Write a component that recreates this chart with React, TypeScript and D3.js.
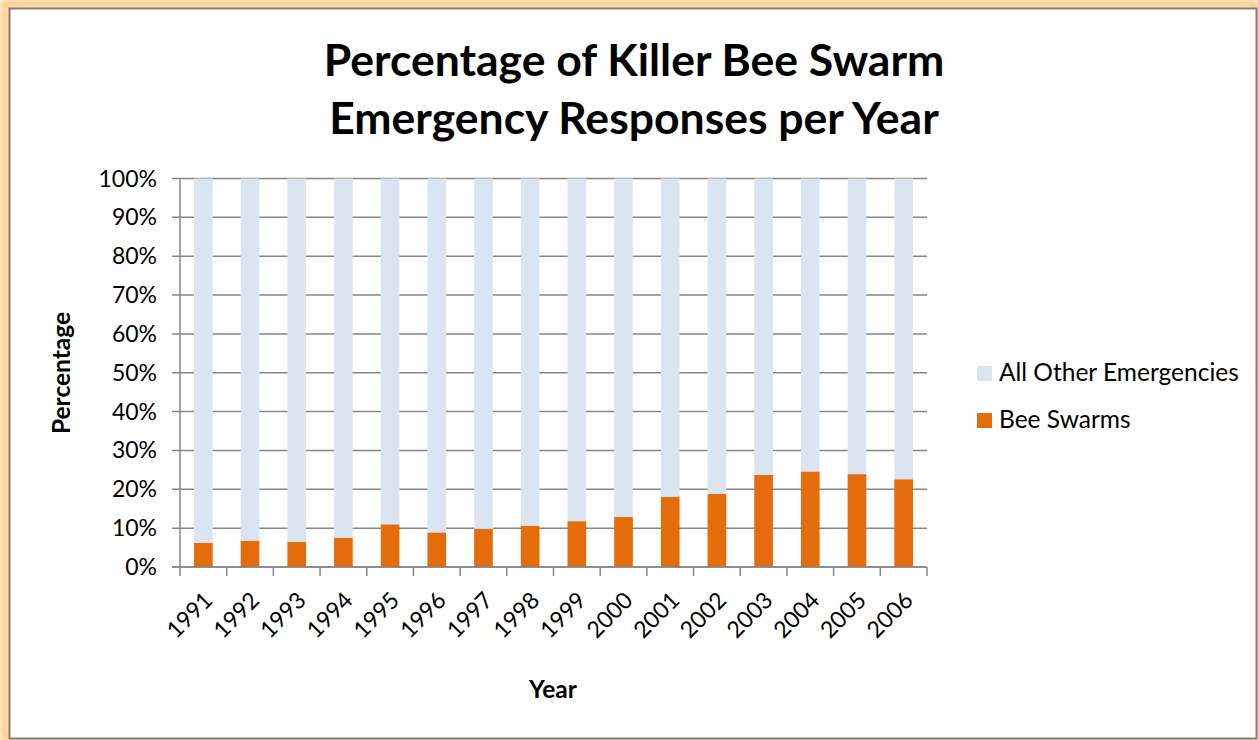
import React from "react";
import * as d3 from "d3";

const years = ["1991","1992","1993","1994","1995","1996","1997","1998","1999","2000","2001","2002","2003","2004","2005","2006"];
const beeSwarms = [6.2, 6.8, 6.5, 7.5, 11.0, 8.9, 9.8, 10.6, 11.8, 12.9, 18.1, 18.8, 23.7, 24.6, 23.9, 22.6];
const yTicks = [0, 10, 20, 30, 40, 50, 60, 70, 80, 90, 100];
const seriesNames = ["All Other Emergencies", "Bee Swarms"];
const seriesColors = ["#DBE5F1", "#E46C0A"];

const W = 1258, H = 740;
const FONT = "Lato, 'Open Sans', sans-serif";

export default function App() {
  const x = d3.scaleBand<string>().domain(years).range([180, 927]).paddingInner(0.6).paddingOuter(0.3);
  const xc = d3.scaleBand<string>().domain(years).range([180, 927]);
  const y = d3.scaleLinear().domain([0, 100]).range([567, 178.5]);
  const rows = years.map((yr, i) => ({ yr, bee: beeSwarms[i], other: 100 - beeSwarms[i] }));
  const series = d3.stack<any>().keys(["bee", "other"])(rows as any);

  return (
    <svg width={W} height={H} style={{ position: "absolute", left: 0, top: 0 }}>
      <defs>
        <filter id="glow" x="-5%" y="-5%" width="110%" height="110%">
          <feGaussianBlur stdDeviation="3" />
        </filter>
      </defs>
      <rect x={0} y={0} width={W} height={H} fill="#fff" />
      <rect x={5} y={4} width={W - 8} height={H - 6} fill="none" stroke="#FFCF8F" strokeWidth={10} filter="url(#glow)" />
      <rect x={9.5} y={8.5} width={W - 11} height={H - 10} fill="#fff" stroke="#7F7F7F" strokeWidth={2} />

      <text x={634} y={76} textAnchor="middle" fontFamily={FONT} fontWeight="bold" fontSize={44.5} fill="#000">Percentage of Killer Bee Swarm</text>
      <text x={634} y={134} textAnchor="middle" fontFamily={FONT} fontWeight="bold" fontSize={44.5} fill="#000">Emergency Responses per Year</text>

      {/* gridlines */}
      {yTicks.map(t => (
        <line key={t} x1={172} x2={927} y1={y(t)} y2={y(t)} stroke="#868686" strokeWidth={1.5} />
      ))}
      {yTicks.map(t => (
        <text key={"l" + t} x={157} y={y(t) + 8} textAnchor="end" fontFamily={FONT} fontSize={23} fill="#000">{t}%</text>
      ))}

      {/* stacked bars */}
      {series.map((s, si) => s.map((d, i) => (
        <rect key={si + "-" + i} x={x(years[i])!} width={x.bandwidth()} y={y(d[1])} height={y(d[0]) - y(d[1])}
          fill={si === 0 ? seriesColors[1] : seriesColors[0]} />
      )))}

      {/* axes */}
      <line x1={180} x2={180} y1={y(100)} y2={y(0)} stroke="#868686" strokeWidth={1.5} />
      <line x1={172} x2={927} y1={y(0)} y2={y(0)} stroke="#868686" strokeWidth={1.5} />
      {years.concat(["end"]).map((yr, i) => {
        const px = 180 + i * xc.bandwidth();
        return <line key={"t" + i} x1={px} x2={px} y1={y(0)} y2={y(0) + 9} stroke="#868686" strokeWidth={1.5} />;
      })}
      {years.map(yr => {
        const cx = xc(yr)! + xc.bandwidth() / 2 + 5;
        const cy = y(0) + 29;
        return (
          <text key={"x" + yr} transform={`translate(${cx},${cy}) rotate(-45)`} textAnchor="end" dy="0.35em"
            fontFamily={FONT} fontSize={23} fill="#000">{yr}</text>
        );
      })}

      <text transform="translate(70,373) rotate(-90)" textAnchor="middle" fontFamily={FONT} fontWeight="bold" fontSize={24.5} fill="#000">Percentage</text>
      <text x={553} y={698} textAnchor="middle" fontFamily={FONT} fontWeight="bold" fontSize={24.5} fill="#000">Year</text>

      {/* legend */}
      {seriesNames.map((n, i) => (
        <g key={n} transform={`translate(977,${366 + i * 47})`}>
          <rect x={0} y={0} width={15} height={15} fill={seriesColors[i]} />
          <text x={22} y={15} fontFamily={FONT} fontSize={24.5} fill="#000">{n}</text>
        </g>
      ))}
    </svg>
  );
}
